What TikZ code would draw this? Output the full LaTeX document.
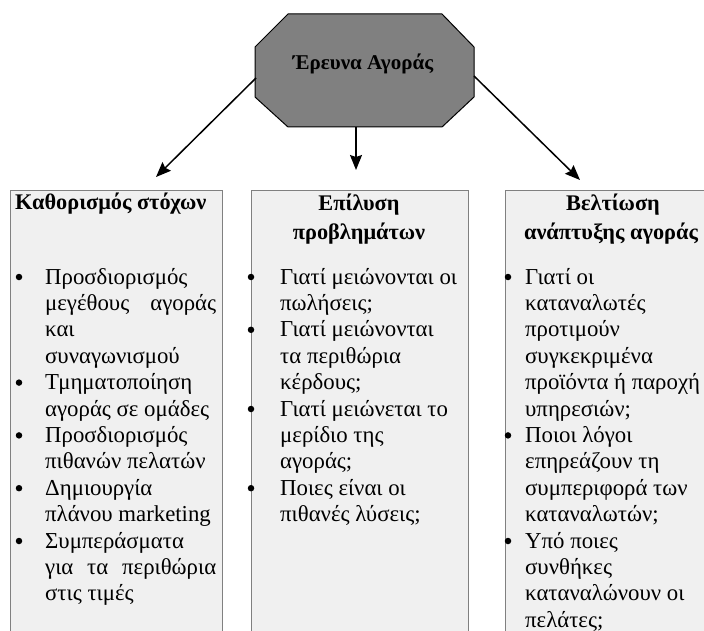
\documentclass[tikz,border=0pt]{standalone}
\usepackage{fontspec}
\setmainfont{Liberation Serif}
\usetikzlibrary{arrows.meta}
\definecolor{boxfill}{HTML}{F0F0F0}
\definecolor{boxline}{HTML}{808080}
\definecolor{octfill}{HTML}{808080}
\newcommand\jline[2]{\hbox to #1{#2}}
\begin{document}
\begin{tikzpicture}[x=1pt,y=-1pt,
  colbox/.style={draw=boxline, fill=boxfill, line width=1pt, anchor=north west, inner sep=0, minimum height=460pt},
  body/.style={font=\fontsize{22.8}{26.5}\selectfont, anchor=base west, inner sep=0},
  bul/.style={circle, fill=black, inner sep=0, minimum size=6.5pt},
  head/.style={font=\fontsize{22.3}{26.5}\selectfont\bfseries, anchor=base, inner sep=0},
  conn/.style={line width=1.5pt, -{Stealth[length=15pt,width=12pt,inset=2pt]}}]
\useasboundingbox (0,0) rectangle (704,631);
\clip (0,0) rectangle (704,631);
% column boxes
\node[colbox, minimum width=212pt] (boxL) at (10,190) {};
\node[colbox, minimum width=217pt] (boxM) at (251,190) {};
\node[colbox, minimum width=216pt] (boxR) at (505,190) {};
% octagon
\draw[fill=octfill, line width=1pt] (288,14) -- (442,14) -- (474,47) -- (474,97) -- (442,127) -- (288,127) -- (255,97) -- (255,47) -- cycle;
\node[font=\fontsize{21}{24}\selectfont\bfseries, anchor=base, inner sep=0] (title) at (363,70) {Έρευνα Αγοράς};
\coordinate (oL) at (256,78);
\coordinate (oM) at (356,127);
\coordinate (oR) at (474,76);
\coordinate (tL) at (156,177);
\coordinate (tM) at (356,170);
\coordinate (tR) at (580,180);
\draw[conn] (oL) -- (tL);
\draw[conn] (oM) -- (tM);
\draw[conn] (oR) -- (tR);
% headers
\node[head, anchor=base west] (hL) at (15,210) {Καθορισμός στόχων};
\node[head] (hM1) at (359,211) {Επίλυση};
\node[head] (hM2) at (359,240) {προβλημάτων};
\node[head] (hR1) at (613,211) {Βελτίωση};
\node[head] (hR2) at (611,240) {ανάπτυξης αγοράς};
% left column
\foreach \t [count=\i from 0] in {Προσδιορισμός,{\jline{171pt}{μεγέθους\hfil αγοράς}},και,συναγωνισμού,Τμηματοποίηση,αγοράς σε ομάδες,Προσδιορισμός,πιθανών πελατών,Δημιουργία,πλάνου marketing,Συμπεράσματα,{\jline{171pt}{για\hfil τα\hfil περιθώρια}},στις τιμές}
  \node[body] (L\i) at (45,284+26.4*\i) {\t};
\foreach \k in {0,4,6,8,10}
  \node[bul] (Lb\k) at (19,277+26.4*\k) {};
% middle column
\foreach \t [count=\i from 0] in {Γιατί μειώνονται οι,πωλήσεις;,Γιατί μειώνονται,τα περιθώρια,κέρδους;,Γιατί μειώνεται το,μερίδιο της,αγοράς;,Ποιες είναι οι,πιθανές λύσεις;}
  \node[body] (M\i) at (280,284+26.4*\i) {\t};
\foreach \k in {0,2,5,8}
  \node[bul] (Mb\k) at (251,277+26.4*\k) {};
% right column
\foreach \t [count=\i from 0] in {Γιατί οι,καταναλωτές,προτιμούν,συγκεκριμένα,προϊόντα ή παροχή,υπηρεσιών;,Ποιοι λόγοι,επηρεάζουν τη,συμπεριφορά των,καταναλωτών;,Υπό ποιες,συνθήκες,καταναλώνουν οι,πελάτες;}
  \node[body] (R\i) at (525,284+26.4*\i) {\t};
\foreach \k in {0,6,10}
  \node[bul] (Rb\k) at (508,277+26.4*\k) {};
\end{tikzpicture}
\end{document}
